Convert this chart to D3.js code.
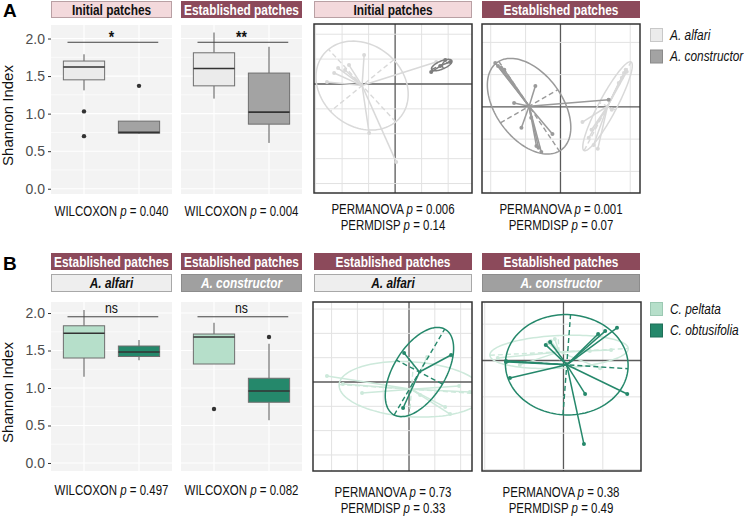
<!DOCTYPE html>
<html><head><meta charset="utf-8">
<script src="https://cdn.jsdelivr.net/npm/d3@7"></script>
<style>
body{margin:0;background:#fff}
svg{display:block}
text{font-family:"Liberation Sans",Arial,sans-serif}
</style>
</head><body>
<svg id="c" width="744" height="516"></svg>
<script>
// ---------------- DATA ----------------
const antGroups = ["A. alfari", "A. constructor"];
const plantGroups = ["C. peltata", "C. obtusifolia"];
const yTicks = [0, 0.5, 1, 1.5, 2];
const yMinor = [0.25, 0.75, 1.25, 1.75];

// Shannon index box statistics
const boxInitial = [
  {grp: "A. alfari", lo: 1.31, q1: 1.45, med: 1.62, q3: 1.70, hi: 1.79, out: [1.03, 0.70]},
  {grp: "A. constructor", lo: 0.73, q1: 0.74, med: 0.75, q3: 0.90, hi: 0.90, out: [1.37]}
];
const boxEstablished = [
  {grp: "A. alfari", lo: 1.20, q1: 1.37, med: 1.60, q3: 1.81, hi: 2.08, out: []},
  {grp: "A. constructor", lo: 0.61, q1: 0.86, med: 1.02, q3: 1.54, hi: 1.89, out: []}
];
const boxAlfariPlants = [
  {grp: "C. peltata", lo: 1.15, q1: 1.40, med: 1.73, q3: 1.83, hi: 2.04, out: []},
  {grp: "C. obtusifolia", lo: 1.37, q1: 1.42, med: 1.48, q3: 1.56, hi: 1.64, out: []}
];
const boxConstructorPlants = [
  {grp: "C. peltata", lo: 1.32, q1: 1.32, med: 1.68, q3: 1.72, hi: 1.87, out: [0.72]},
  {grp: "C. obtusifolia", lo: 0.57, q1: 0.81, med: 0.96, q3: 1.13, hi: 1.59, out: [1.68]}
];
const sigLabels = ["*", "**", "ns", "ns"];
const wilcoxonP = ["0.040", "0.004", "0.497", "0.082"];
const permanovaP = ["0.006", "0.001", "0.73", "0.38"];
const permdispP = ["0.14", "0.07", "0.33", "0.49"];

// PCoA scores (axis 1, axis 2)
const pcoaInitialAlfari = [[-0.117,0.116],[-0.215,0.064],[-0.230,0.044],[-0.174,0.076],[-0.189,0.056],[-0.257,0.008],[-0.098,-0.197],[0.004,-0.313],[0.155,0.088]];
const pcoaInitialConstructor = [[0.136,0.048],[0.189,0.096],[0.170,0.072],[0.208,0.088]];
const pcoaEstAlfari = [[0.187,0.115],[0.182,0.105],[0.190,0.109],[0.176,0.090],[0.167,0.074],[0.063,-0.047],[0.081,-0.096],[0.107,-0.130],[0.095,-0.118],[0.089,-0.071],[0.147,-0.009]];
const pcoaEstConstructor = [[-0.187,0.136],[-0.179,0.127],[-0.170,0.121],[-0.161,0.115],[-0.072,0.065],[-0.133,0.012],[-0.112,-0.065],[-0.023,-0.084],[-0.063,-0.127],[-0.055,-0.140],[-0.069,-0.121],[0.138,0.022],[-0.084,-0.034]];
const pcoaAlfariPeltata = [[-0.318,0.025],[-0.256,-0.008],[-0.182,-0.045],[0.194,-0.016],[0.140,-0.103],[0.159,-0.132],[0.070,0.103],[0.043,-0.053],[0.236,-0.041]];
const pcoaAlfariObtusifolia = [[-0.019,0.119],[0.163,0.111],[-0.023,-0.107]];
const pcoaConstrPeltata = [[-0.167,0.007],[-0.022,0.059],[-0.032,0.054],[-0.039,0.048],[0.093,-0.021],[0.121,0.029],[0.067,0.026],[-0.111,-0.012]];
const pcoaConstrObtusifolia = [[0.136,0.090],[0.106,0.081],[0.088,0.073],[-0.045,0.043],[-0.034,0.051],[-0.146,-0.004],[-0.146,-0.001],[-0.136,-0.048],[0.055,-0.092],[0.162,-0.092],[0.052,-0.230]];
// dispersion ellipses: semi-axis a, semi-axis b, rotation (degrees)
const ellInitialAlfari = [0.193, 0.158, 131];
const ellInitialConstructor = [0.042, 0.016, 25];
const ellEstAlfari = [0.153, 0.026, 64];
const ellEstConstructor = [0.164, 0.097, -58];
const ellAlfariPeltata = [0.281, 0.113, -4];
const ellAlfariObtusifolia = [0.202, 0.102, 61];
const ellConstrPeltata = [0.176, 0.045, 3];
const ellConstrObtusifolia = [0.156, 0.138, -4];
// axis limits of each ordination panel
const pcoaLimitsA1 = [[-0.306, 0.29], [-0.438, 0.241]];
const pcoaLimitsA2 = [[-0.225, 0.228], [-0.267, 0.257]];
const pcoaLimitsB1 = [[-0.372, 0.244], [-0.366, 0.329]];
const pcoaLimitsB2 = [[-0.207, 0.197], [-0.304, 0.161]];

// ---------------- STYLE ----------------
const C = {
  alfari: "#ebebeb", alfariLine: "#d9d9d9", constructor: "#a3a3a3", constructorLine: "#9a9a9a", constructorDark: "#7d7d7d",
  peltata: "#b6dfca", peltataLine: "#cde9db", obtus: "#25886b",
  pink: "#f3d9dc", mauve: "#8c4a5b"
};
const NARROW = 0.82;
const svg = d3.select("#c");

// condensed text (no narrow font installed): horizontal scale
function ntext(x, y, size, anchor) {
  return svg.append("text").attr("transform", `translate(${x},${y}) scale(${NARROW},1)`)
    .attr("x", 0).attr("y", 0).attr("font-size", size).attr("text-anchor", anchor || "middle");
}

function strip(x, y, w, h, fill, stroke, label, color, italic) {
  svg.append("rect").attr("x", x + 0.5).attr("y", y + 0.5).attr("width", w - 1).attr("height", h - 1)
    .attr("fill", fill).attr("stroke", stroke).attr("stroke-width", 1);
  ntext(x + w / 2, y + h / 2 + 5, 14.5).attr("font-weight", "bold").attr("font-style", italic ? "italic" : "normal")
    .attr("fill", color).text(label);
}

function pText(x, y, prefix, val) {
  const t = ntext(x, y, 14).attr("fill", "#111");
  t.append("tspan").text(prefix + " ");
  t.append("tspan").attr("font-style", "italic").text("p");
  t.append("tspan").text(" = " + val);
}

function boxPanel(px, py, pw, ph, yDomain, stats, fills, sig, showAxis) {
  const x = d3.scalePoint().domain(stats.map(d => d.grp)).range([px, px + pw]).padding(0.6);
  const y = d3.scaleLinear().domain(yDomain).range([py + ph, py]);
  const g = svg.append("g");
  g.append("rect").attr("x", px).attr("y", py).attr("width", pw).attr("height", ph).attr("fill", "#f3f3f3");
  g.selectAll(".mn").data(yMinor).join("line").attr("x1", px).attr("x2", px + pw)
    .attr("y1", d => y(d)).attr("y2", d => y(d)).attr("stroke", "#fff").attr("stroke-width", 0.6);
  g.selectAll(".mj").data(yTicks).join("line").attr("x1", px).attr("x2", px + pw)
    .attr("y1", d => y(d)).attr("y2", d => y(d)).attr("stroke", "#fff").attr("stroke-width", 1.1);
  g.selectAll(".vx").data(stats).join("line").attr("x1", d => x(d.grp)).attr("x2", d => x(d.grp))
    .attr("y1", py).attr("y2", py + ph).attr("stroke", "#fff").attr("stroke-width", 1.1);
  const bw = x.step() * 0.75;
  stats.forEach((d, i) => {
    const cx = x(d.grp);
    g.append("line").attr("x1", cx).attr("x2", cx).attr("y1", y(d.hi)).attr("y2", y(d.q3)).attr("stroke", "#555").attr("stroke-width", 1);
    g.append("line").attr("x1", cx).attr("x2", cx).attr("y1", y(d.q1)).attr("y2", y(d.lo)).attr("stroke", "#555").attr("stroke-width", 1);
    g.append("rect").attr("x", cx - bw / 2).attr("y", y(d.q3)).attr("width", bw).attr("height", y(d.q1) - y(d.q3))
      .attr("fill", fills[i]).attr("stroke", "#6e6e6e").attr("stroke-width", 1);
    g.append("line").attr("x1", cx - bw / 2).attr("x2", cx + bw / 2).attr("y1", y(d.med)).attr("y2", y(d.med))
      .attr("stroke", "#333").attr("stroke-width", 1.6);
    g.selectAll(null).data(d.out).join("circle").attr("cx", cx).attr("cy", v => y(v)).attr("r", 2.2).attr("fill", "#333");
  });
  // significance bracket
  const sx1 = x(stats[0].grp) - x.step() * 0.3, sx2 = x(stats[1].grp) + x.step() * 0.35;
  g.append("line").attr("x1", sx1).attr("x2", sx2).attr("y1", y(1.95)).attr("y2", y(1.95)).attr("stroke", "#444").attr("stroke-width", 1);
  const isStar = sig.indexOf("*") >= 0;
  ntext((x(stats[0].grp) + x(stats[1].grp)) / 2, y(1.95) - (isStar ? -1 : 4), isStar ? 17 : 15)
    .attr("font-weight", isStar ? "bold" : "normal").attr("fill", "#111").text(sig);
  if (showAxis) {
    const ax = svg.append("g").attr("transform", `translate(${px},0)`)
      .call(d3.axisLeft(y).tickValues(yTicks).tickFormat(d3.format(".1f")).tickSize(3).tickPadding(3));
    ax.select(".domain").remove();
    ax.selectAll(".tick line").attr("stroke", "#333");
    ax.selectAll(".tick text").attr("fill", "#4d4d4d").attr("font-size", 14)
      .style("font-family", '"Liberation Sans",Arial,sans-serif');
    svg.append("text").attr("transform", `translate(13,${py + ph / 2 + 6}) rotate(-90)`).attr("text-anchor", "middle")
      .attr("font-size", 15).attr("fill", "#111").text("Shannon Index");
  }
}

let clipId = 0;
function ellipsePts(c, e, n) {
  const th = e[2] * Math.PI / 180, u = [Math.cos(th), Math.sin(th)], v = [-Math.sin(th), Math.cos(th)];
  return d3.range(n + 1).map(k => {
    const t = 2 * Math.PI * k / n;
    return [c[0] + e[0] * Math.cos(t) * u[0] + e[1] * Math.sin(t) * v[0],
            c[1] + e[0] * Math.cos(t) * u[1] + e[1] * Math.sin(t) * v[1]];
  });
}
function pcoaPanel(px, py, pw, ph, lims, groups) {
  const x = d3.scaleLinear().domain(lims[0]).range([px, px + pw]);
  const y = d3.scaleLinear().domain(lims[1]).range([py + ph, py]);
  const id = "clip" + (clipId++);
  svg.append("clipPath").attr("id", id).append("rect").attr("x", px).attr("y", py).attr("width", pw).attr("height", ph);
  const g = svg.append("g").attr("clip-path", `url(#${id})`);
  g.append("rect").attr("x", px).attr("y", py).attr("width", pw).attr("height", ph).attr("fill", "#fff");
  const gx = d3.range(Math.ceil(lims[0][0] * 10), Math.floor(lims[0][1] * 10) + 1).map(k => k / 10);
  const gy = d3.range(Math.ceil(lims[1][0] * 10), Math.floor(lims[1][1] * 10) + 1).map(k => k / 10);
  g.selectAll(".gx").data(gx).join("line").attr("x1", d => x(d)).attr("x2", d => x(d)).attr("y1", py).attr("y2", py + ph)
    .attr("stroke", d => Math.abs(d) < 1e-9 ? "#5a5a5a" : "#e2e2e2").attr("stroke-width", d => Math.abs(d) < 1e-9 ? 1.3 : 1);
  g.selectAll(".gy").data(gy).join("line").attr("y1", d => y(d)).attr("y2", d => y(d)).attr("x1", px).attr("x2", px + pw)
    .attr("stroke", d => Math.abs(d) < 1e-9 ? "#5a5a5a" : "#e2e2e2").attr("stroke-width", d => Math.abs(d) < 1e-9 ? 1.3 : 1);
  const line = d3.line().x(d => x(d[0])).y(d => y(d[1]));
  groups.forEach(gr => {
    const c = [d3.mean(gr.pts, d => d[0]), d3.mean(gr.pts, d => d[1])];
    const e = gr.ell, th = e[2] * Math.PI / 180;
    const u = [Math.cos(th), Math.sin(th)], v = [-Math.sin(th), Math.cos(th)];
    g.append("path").attr("d", line(ellipsePts(c, e, 120))).attr("fill", "none")
      .attr("stroke", gr.ellColor).attr("stroke-width", 1.5);
    [[e[0], u], [e[1], v]].forEach(([r, dir]) => {
      g.append("path").attr("d", line([[c[0] - r * dir[0], c[1] - r * dir[1]], [c[0] + r * dir[0], c[1] + r * dir[1]]]))
        .attr("stroke", gr.ellColor).attr("stroke-width", 1.4).attr("stroke-dasharray", "5,3");
    });
    gr.pts.forEach(p => {
      g.append("path").attr("d", line([c, p])).attr("stroke", gr.color).attr("stroke-width", 1.5);
    });
    g.selectAll(null).data(gr.pts).join("circle").attr("cx", d => x(d[0])).attr("cy", d => y(d[1])).attr("r", 2)
      .attr("fill", gr.color);
  });
  svg.append("rect").attr("x", px).attr("y", py).attr("width", pw).attr("height", ph)
    .attr("fill", "none").attr("stroke", "#333").attr("stroke-width", 1.5);
}

function legend(x, y, labels, fills, strokes) {
  labels.forEach((l, i) => {
    svg.append("rect").attr("x", x + 0.5).attr("y", y + i * 21.5 + 0.5).attr("width", 12).attr("height", 13)
      .attr("fill", fills[i]).attr("stroke", strokes[i]);
    ntext(x + 20, y + i * 21.5 + 11.5, 14.5, "start").attr("font-style", "italic").attr("fill", "#111").text(l);
  });
}

// ---------------- PANEL A ----------------
svg.append("text").attr("x", 3).attr("y", 17).attr("font-size", 19).attr("font-weight", "bold").text("A");
strip(51, 1, 121, 17, C.pink, "#b9a0a4", "Initial patches", "#111", false);
strip(181, 1, 121, 17, C.mauve, C.mauve, "Established patches", "#fff", false);
strip(314, 1, 158, 17, C.pink, "#b9a0a4", "Initial patches", "#111", false);
strip(482, 1, 158, 17, C.mauve, C.mauve, "Established patches", "#fff", false);

boxPanel(51, 25, 121, 169, [-0.07, 2.18], boxInitial, [C.alfari, C.constructor], sigLabels[0], true);
boxPanel(181, 25, 121, 169, [-0.07, 2.18], boxEstablished, [C.alfari, C.constructor], sigLabels[1], false);
pText(111.5, 216, "WILCOXON", wilcoxonP[0]);
pText(241.5, 216, "WILCOXON", wilcoxonP[1]);

pcoaPanel(314, 24, 158, 169, pcoaLimitsA1, [
  {pts: pcoaInitialAlfari, ell: ellInitialAlfari, color: C.alfariLine, ellColor: C.alfariLine},
  {pts: pcoaInitialConstructor, ell: ellInitialConstructor, color: C.constructorDark, ellColor: C.constructorDark}
]);
pcoaPanel(482, 24, 158, 169, pcoaLimitsA2, [
  {pts: pcoaEstAlfari, ell: ellEstAlfari, color: C.alfariLine, ellColor: C.alfariLine},
  {pts: pcoaEstConstructor, ell: ellEstConstructor, color: C.constructorLine, ellColor: C.constructorLine}
]);
pText(393, 214, "PERMANOVA", permanovaP[0]);
pText(393, 230, "PERMDISP", permdispP[0]);
pText(561, 214, "PERMANOVA", permanovaP[1]);
pText(561, 230, "PERMDISP", permdispP[1]);
legend(650, 28, antGroups, [C.alfari, C.constructor], ["#c8c8c8", "#8a8a8a"]);

// ---------------- PANEL B ----------------
svg.append("text").attr("x", 3).attr("y", 270).attr("font-size", 19).attr("font-weight", "bold").text("B");
strip(51, 253, 121, 17, C.mauve, C.mauve, "Established patches", "#fff", false);
strip(181, 253, 121, 17, C.mauve, C.mauve, "Established patches", "#fff", false);
strip(314, 253, 158, 17, C.mauve, C.mauve, "Established patches", "#fff", false);
strip(482, 253, 158, 17, C.mauve, C.mauve, "Established patches", "#fff", false);
strip(51, 274, 121, 18, "#eeeeee", "#a8a8a8", antGroups[0], "#111", true);
strip(181, 274, 121, 18, "#a0a0a0", "#8c8c8c", antGroups[1], "#fff", true);
strip(314, 274, 158, 18, "#eeeeee", "#a8a8a8", antGroups[0], "#111", true);
strip(482, 274, 158, 18, "#a0a0a0", "#8c8c8c", antGroups[1], "#fff", true);

boxPanel(51, 302, 121, 169, [-0.107, 2.147], boxAlfariPlants, [C.peltata, C.obtus], sigLabels[2], true);
boxPanel(181, 302, 121, 169, [-0.107, 2.147], boxConstructorPlants, [C.peltata, C.obtus], sigLabels[3], false);
pText(111.5, 495, "WILCOXON", wilcoxonP[2]);
pText(241.5, 495, "WILCOXON", wilcoxonP[3]);

pcoaPanel(313, 302, 159, 169, pcoaLimitsB1, [
  {pts: pcoaAlfariPeltata, ell: ellAlfariPeltata, color: C.peltataLine, ellColor: C.peltataLine},
  {pts: pcoaAlfariObtusifolia, ell: ellAlfariObtusifolia, color: C.obtus, ellColor: C.obtus}
]);
pcoaPanel(482, 302, 159, 169, pcoaLimitsB2, [
  {pts: pcoaConstrPeltata, ell: ellConstrPeltata, color: C.peltataLine, ellColor: C.peltataLine},
  {pts: pcoaConstrObtusifolia, ell: ellConstrObtusifolia, color: C.obtus, ellColor: C.obtus}
]);
pText(393, 497, "PERMANOVA", permanovaP[2]);
pText(393, 513, "PERMDISP", permdispP[2]);
pText(561, 497, "PERMANOVA", permanovaP[3]);
pText(561, 513, "PERMDISP", permdispP[3]);
legend(650, 302, plantGroups, [C.peltata, C.obtus], ["#9cc9b3", "#1f6f58"]);
</script>
</body></html>
